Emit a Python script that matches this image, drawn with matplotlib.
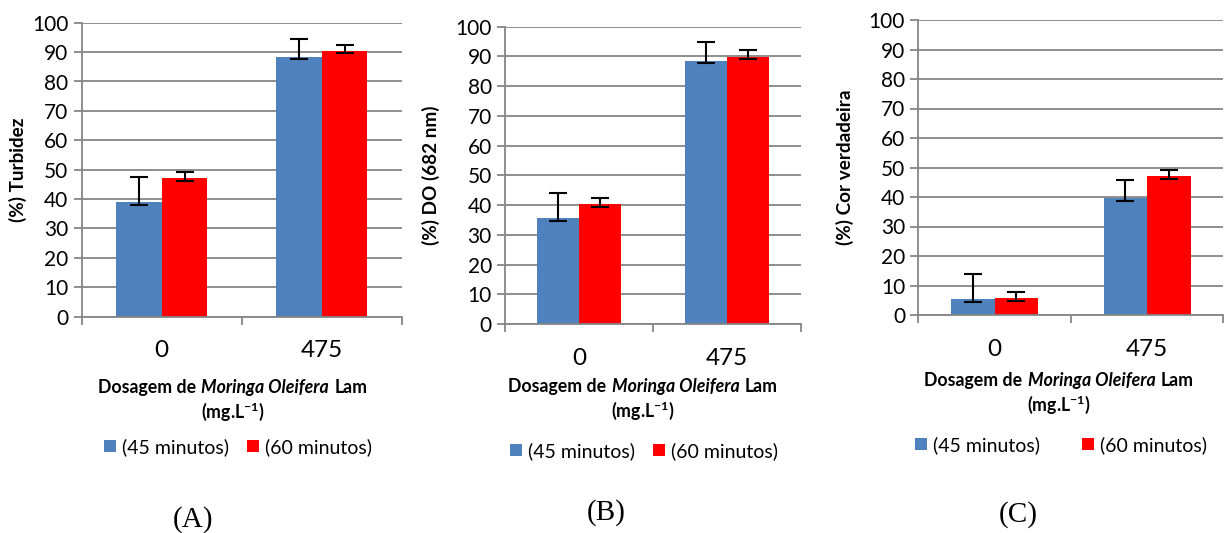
import matplotlib
matplotlib.use("Agg")
import matplotlib.pyplot as plt
from matplotlib.offsetbox import TextArea, HPacker, VPacker, AnnotationBbox
import numpy as np

plt.rcParams["font.family"] = ["Lato", "DejaVu Sans"]
plt.rcParams["mathtext.default"] = "regular"

# ── dados ───────────────────────────────────
dosagem = ["0", "475"]
series = ["(45 minutos)", "(60 minutos)"]
cores = ["#4F81BD", "#FF0000"]

# (A) Turbidez
turb_45 = [39.1, 88.4]
turb_45_lo = [1.0, 0.9]
turb_45_hi = [8.5, 5.9]
turb_60 = [47.1, 90.5]
turb_60_lo = [0.9, 0.7]
turb_60_hi = [2.0, 2.0]

# (B) DO 682 nm
do_45 = [35.5, 88.6]
do_45_lo = [0.7, 0.7]
do_45_hi = [8.7, 6.2]
do_60 = [40.4, 89.9]
do_60_lo = [0.9, 0.7]
do_60_hi = [2.0, 2.3]

# (C) Cor verdadeira
cor_45 = [5.3, 39.8]
cor_45_lo = [0.9, 1.2]
cor_45_hi = [8.6, 6.0]
cor_60 = [5.6, 47.1]
cor_60_lo = [0.7, 1.0]
cor_60_hi = [2.1, 2.0]

W, H = 1225, 533
GRID = "#868686"

fig = plt.figure(figsize=(W / 100, H / 100), dpi=100)


def px_axes(left, right, top, bottom):
    return fig.add_axes([left / W, 1 - bottom / H, (right - left) / W, (bottom - top) / H])


def painel(rect, ylabel, v45, lo45, hi45, v60, lo60, hi60,
           xlab_xy, leg_xy, leg_gap, letra, letra_xy, ylab_x):
    ax = px_axes(*rect)
    x = np.arange(len(dosagem))
    w = 0.285
    ax.bar(x - w / 2, v45, w, color=cores[0], label=series[0], zorder=2)
    ax.bar(x + w / 2, v60, w, color=cores[1], label=series[1], zorder=2)
    ax.errorbar(x - w / 2, v45, yerr=[lo45, hi45], fmt="none", ecolor="black",
                elinewidth=1.5, capsize=6.5, capthick=1.5, zorder=3)
    ax.errorbar(x + w / 2, v60, yerr=[lo60, hi60], fmt="none", ecolor="black",
                elinewidth=1.5, capsize=6.5, capthick=1.5, zorder=3)

    ax.set_xlim(-0.5, 1.5)
    ax.set_ylim(0, 100)
    ax.set_yticks(range(0, 101, 10))
    ax.yaxis.grid(True, color=GRID, lw=1.3)
    ax.set_axisbelow(True)
    for s in ["top", "right"]:
        ax.spines[s].set_visible(False)
    for s in ["left", "bottom"]:
        ax.spines[s].set_color(GRID)
        ax.spines[s].set_linewidth(1.3)
    ax.tick_params(axis="y", length=5.5, width=1.3, color=GRID, labelsize=15, pad=4)

    # marcas nos limites das categorias, rótulos no centro
    ax.set_xticks([-0.5, 0.5, 1.5])
    ax.set_xticklabels([])
    ax.set_xticks(x, minor=True)
    ax.set_xticklabels(dosagem, minor=True)
    ax.tick_params(axis="x", which="major", length=5.5, width=1.3, color=GRID)
    ax.tick_params(axis="x", which="minor", length=0, labelsize=17.5, pad=17)

    ax.set_ylabel(ylabel, fontsize=13.6, fontweight="bold")
    ax.yaxis.set_label_coords(ylab_x, 0.5)

    # título do eixo x com parte em itálico
    fs = 12.8
    l1 = HPacker(children=[
        TextArea("Dosagem de", textprops=dict(fontsize=fs, fontweight="bold")),
        TextArea("Moringa Oleifera", textprops=dict(fontsize=fs, fontweight="bold", style="italic")),
        TextArea("Lam", textprops=dict(fontsize=fs, fontweight="bold")),
    ], pad=0, sep=3.8, align="baseline")
    l2 = TextArea("(mg.L$^{-1}$)", textprops=dict(fontsize=fs, fontweight="bold"))
    box = VPacker(children=[l1, l2], pad=0, sep=3, align="center")
    ab = AnnotationBbox(box, (xlab_xy[0] / W, 1 - xlab_xy[1] / H), xycoords="figure fraction",
                        frameon=False, box_alignment=(0.5, 0.5))
    fig.add_artist(ab)

    ax.legend(loc="center", bbox_to_anchor=(leg_xy[0] / W, 1 - leg_xy[1] / H),
              bbox_transform=fig.transFigure, ncol=2, frameon=False, fontsize=14,
              handlelength=0.62, handleheight=0.62, handletextpad=0.3,
              columnspacing=leg_gap)

    fig.text(letra_xy[0] / W, 1 - letra_xy[1] / H, letra, ha="center", va="center",
             fontsize=21, family="Liberation Serif")
    return ax


painel((81.7, 401.7, 22.7, 316.7), "(%) Turbidez",
       turb_45, turb_45_lo, turb_45_hi, turb_60, turb_60_lo, turb_60_hi,
       (232.5, 401), (238, 447), 0.9, "(A)", (193, 520), -0.17)

painel((505, 800.7, 26.7, 324), "(%) DO (682 nm)",
       do_45, do_45_lo, do_45_hi, do_60, do_60_lo, do_60_hi,
       (643, 400), (644, 451), 0.9, "(B)", (606, 513), -0.22)

painel((918.3, 1223.3, 20, 315), "(%) Cor verdadeira",
       cor_45, cor_45_lo, cor_45_hi, cor_60, cor_60_lo, cor_60_hi,
       (1059, 394), (1061, 445), 2.2, "(C)", (1018, 515), -0.21)

fig.savefig("out.png", dpi=100)
